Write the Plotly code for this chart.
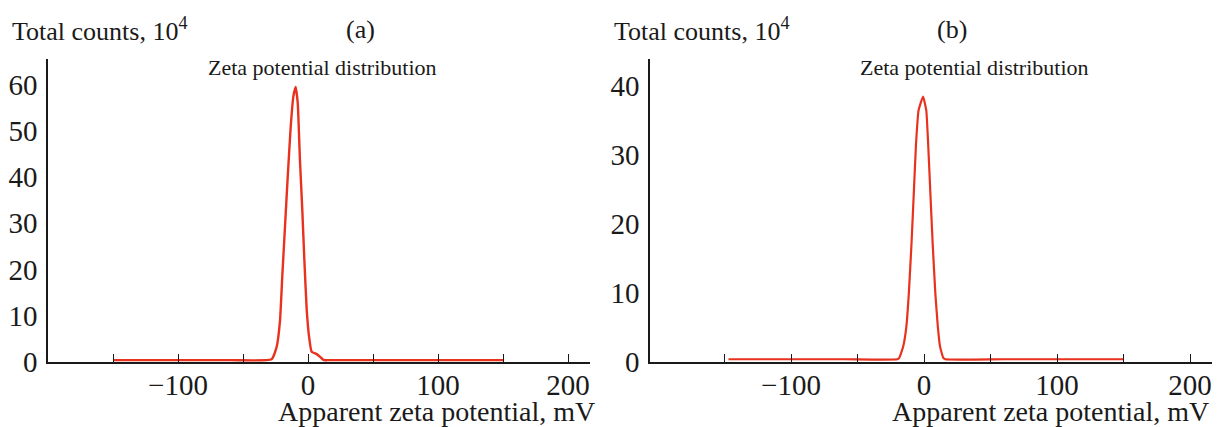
import plotly.graph_objects as go

# Panel (a) data
xa = [-150, -60, -28, -24.1, -21.5, -19.8, -17.7, -15.6, -13.3, -11.3, -9.5, -7.9, -6.2, -4.4,
      -2.8, -1.0, 0.8, 2.8, 6.7, 9.7, 12.3, 15, 60, 150]
ya = [0.4, 0.4, 0.6, 3.3, 9.1, 18.5, 29.3, 40.1, 50.9, 57.4, 59.5, 56.0, 43.7, 32.9,
      22.0, 11.3, 5.5, 2.2, 1.7, 1.0, 0.4, 0.4, 0.4, 0.4]

# Panel (b) data
xb = [-147, -60, -20, -18.6, -15.7, -13.3, -11.4, -9.4, -7.7, -6.0, -4.1, -0.7, 1.7, 3.1, 4.8,
      6.5, 8.5, 10.4, 12.1, 14.5, 16, 60, 150]
yb = [0.4, 0.4, 0.4, 0.6, 2.2, 5.1, 10.0, 17.2, 24.4, 31.7, 36.5, 38.5, 36.5, 31.7, 24.4,
      17.2, 10.0, 5.1, 2.2, 0.6, 0.4, 0.4, 0.4]

x_tickvals = [-150, -100, -50, 0, 50, 100, 150, 200]
x_ticktext = ["", "\u2212100", "", "0", "", "100", "", "200"]
ya_tickvals = [0, 10, 20, 30, 40, 50, 60]
yb_tickvals = [0, 10, 20, 30, 40]

RED = "#e8321e"
INK = "#1a1a1a"
FONT = "Liberation Serif"

# the page body adds an 8px margin; keep the figure inside the window
W, H = 1204, 419
OFF = 8

fig = go.Figure()
fig.add_trace(go.Scatter(x=xa, y=ya, mode="lines",
                         line=dict(color=RED, width=2.4, shape="spline", smoothing=0.4),
                         xaxis="x", yaxis="y", showlegend=False))
fig.add_trace(go.Scatter(x=xb, y=yb, mode="lines",
                         line=dict(color=RED, width=2.2, shape="spline", smoothing=0.4),
                         xaxis="x2", yaxis="y2", showlegend=False))

xcommon = dict(showline=True, linecolor=INK, linewidth=1.5, ticks="inside", ticklen=8,
               tickwidth=1.3, tickcolor=INK, tickvals=x_tickvals, ticktext=x_ticktext,
               showgrid=False, zeroline=False, automargin=False, ticklabeloverflow="allow",
               ticklabelstandoff=-4,
               tickfont=dict(family=FONT, size=29, color=INK))
ycommon = dict(showline=True, linecolor=INK, linewidth=1.5, ticks="", showgrid=False,
               zeroline=False, automargin=False, ticklabeloverflow="allow",
               tickfont=dict(family=FONT, size=29, color=INK), ticklabelstandoff=3)


def px_x(v):
    return (v - OFF) / W


def px_y(v):
    return 1 - (v - OFF) / H


ydom = [px_y(362), px_y(58.7)]
fig.update_layout(
    width=W, height=H,
    margin=dict(l=0, r=0, t=0, b=0, autoexpand=False),
    paper_bgcolor="white", plot_bgcolor="white",
    xaxis=dict(domain=[px_x(48), px_x(590)], range=[-200, 216.9], anchor="y", **xcommon),
    yaxis=dict(domain=ydom, range=[0, 65.6], anchor="x", tickvals=ya_tickvals, **ycommon),
    xaxis2=dict(domain=[px_x(650), 1.0], range=[-206, 216.5], anchor="y2", **xcommon),
    yaxis2=dict(domain=ydom, range=[0, 44.0], anchor="x2", tickvals=yb_tickvals, **ycommon),
)

ann = [
    dict(x=10, y=30, text="Total counts, 10<sup>4</sup>", xanchor="left"),
    dict(x=360, y=30, text="(a)", xanchor="center"),
    dict(x=322, y=68, text="Zeta potential distribution", xanchor="center", size=22),
    dict(x=597, y=411, text="Apparent zeta potential, mV", xanchor="right", size=28),
    dict(x=612, y=30, text="Total counts, 10<sup>4</sup>", xanchor="left"),
    dict(x=952, y=30, text="(b)", xanchor="center"),
    dict(x=974, y=68, text="Zeta potential distribution", xanchor="center", size=22),
    dict(x=1211, y=411, text="Apparent zeta potential, mV", xanchor="right", size=28),
]
for a in ann:
    size = a.pop("size", 26)
    fig.add_annotation(x=px_x(a["x"]), y=px_y(a["y"]), xref="paper", yref="paper",
                       text=a["text"], xanchor=a["xanchor"], yanchor="middle", showarrow=False,
                       font=dict(family=FONT, size=size, color=INK))

fig.write_html("out.html")
